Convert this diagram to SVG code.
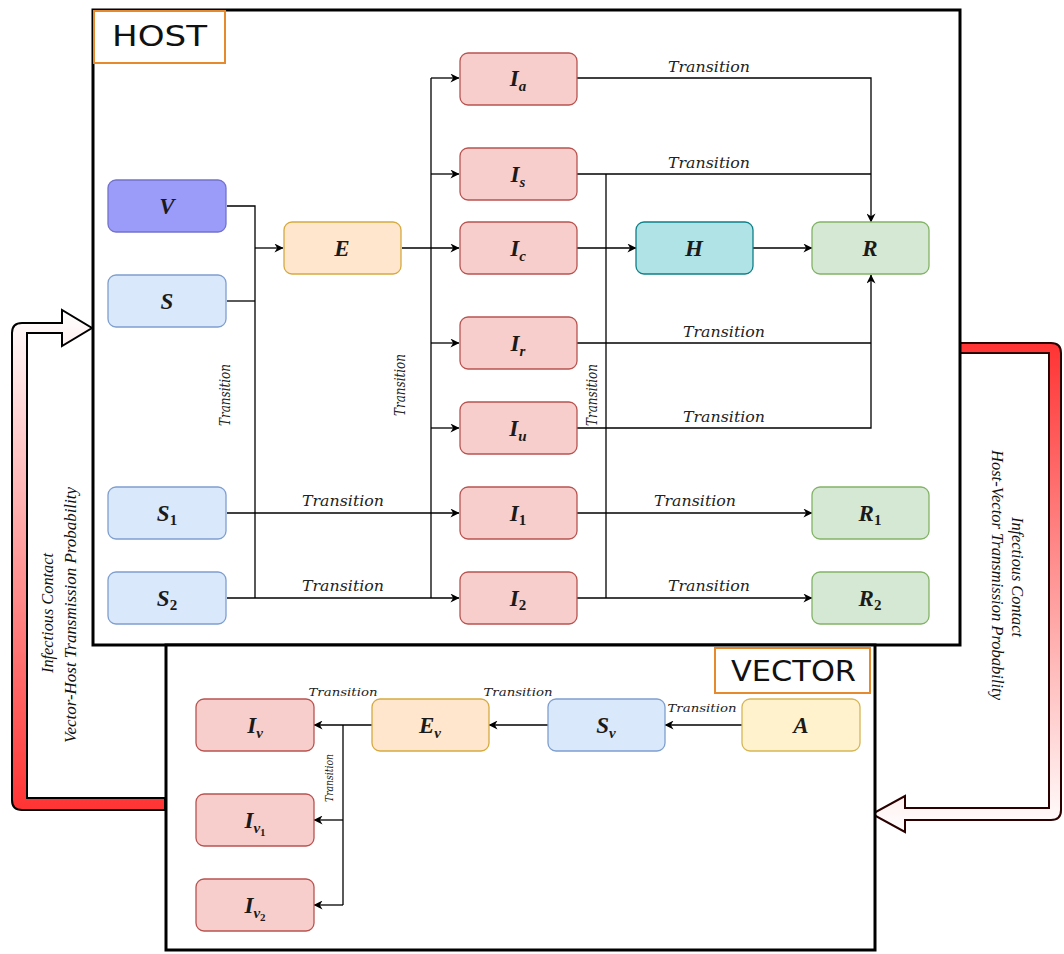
<svg xmlns="http://www.w3.org/2000/svg" width="1064" height="954" viewBox="0 0 1064 954">
<defs>
  <marker id="arr" viewBox="0 0 10 10" refX="9.5" refY="5" markerWidth="10" markerHeight="9" markerUnits="userSpaceOnUse" orient="auto">
    <path d="M0,0 L10,5 L0,10 L3,5 Z" fill="#000"/>
  </marker>
  <linearGradient id="gLeft" x1="0" y1="310" x2="0" y2="810" gradientUnits="userSpaceOnUse">
    <stop offset="0" stop-color="#ffffff"/>
    <stop offset="1" stop-color="#ff3333"/>
  </linearGradient>
  <linearGradient id="gRight" x1="0" y1="343" x2="0" y2="832" gradientUnits="userSpaceOnUse">
    <stop offset="0" stop-color="#ff3333"/>
    <stop offset="1" stop-color="#ffffff"/>
  </linearGradient>
  <style>
    .frame{fill:#fff;stroke:#000;stroke-width:3}
    .tag{fill:#fff;stroke:#e58a2e;stroke-width:2}
    .tagt{font-family:"DejaVu Sans",sans-serif;font-size:28px;fill:#111}
    .n{stroke-width:1.3}
    .purple{fill:#9b9bfa;stroke:#7373cc}
    .blue{fill:#dae8fc;stroke:#7f9fcf}
    .orange{fill:#ffe6cc;stroke:#d6aa40}
    .red{fill:#f8cecc;stroke:#b85450}
    .teal{fill:#b0e3e6;stroke:#0e8088}
    .green{fill:#d5e8d4;stroke:#82b366}
    .yellow{fill:#fff2cc;stroke:#d6b656}
    .lbl{font-family:"Liberation Serif",serif;font-style:italic;font-weight:bold;font-size:23px;fill:#1a1a1a;text-anchor:middle}
    .sub{font-size:15px}
    .sub2{font-size:11px}
    .c{fill:none;stroke:#000;stroke-width:1.3}
    .ca{fill:none;stroke:#000;stroke-width:1.3;marker-end:url(#arr)}
    .tr{font-family:"DejaVu Serif",serif;font-style:italic;font-size:14px;fill:#222;text-anchor:middle}
    .trs{font-family:"DejaVu Serif",serif;font-style:italic;font-size:11px;fill:#222;text-anchor:middle}
    .big{font-family:"Liberation Serif",serif;font-style:italic;font-size:16px;fill:#111;text-anchor:middle}
  </style>
</defs>

<!-- big feedback arrows -->
<g id="arrow-vector-host">
  <path d="M165,810 L22,810 Q12,810 12,800 L12,333 Q12,323 22,323 L62,323 L62,310 L92,328 L62,346 L62,333 L27,333 L27,798 L165,798 Z" fill="url(#gLeft)" stroke="#000" stroke-width="2"/>
  <text class="big" transform="translate(53,613) rotate(-90)" textLength="120" lengthAdjust="spacingAndGlyphs">Infectious Contact</text>
  <text class="big" transform="translate(76,615) rotate(-90)" textLength="256" lengthAdjust="spacingAndGlyphs">Vector-Host Transmission Probability</text>
</g>
<g id="arrow-host-vector">
  <path d="M960,343 L1051,343 Q1061,343 1061,353 L1061,810 Q1061,820 1051,820 L905,820 L905,832 L872,814 L905,796 L905,808 L1049,808 L1049,353 L960,353 Z" fill="url(#gRight)" stroke="#2a0000" stroke-width="2"/>
  <text class="big" transform="translate(1012,577) rotate(90)" textLength="120" lengthAdjust="spacingAndGlyphs">Infectious Contact</text>
  <text class="big" transform="translate(992,575) rotate(90)" textLength="250" lengthAdjust="spacingAndGlyphs">Host-Vector Transmission Probability</text>
</g>

<!-- frames -->
<g id="host-frame">
  <rect class="frame" x="93" y="10" width="867" height="635"/>
  <rect class="tag" x="94" y="11" width="131" height="52"/>
  <text class="tagt" x="112" y="46" textLength="95" lengthAdjust="spacingAndGlyphs">HOST</text>
</g>
<g id="vector-frame">
  <rect class="frame" x="166" y="645" width="709" height="305"/>
  <rect class="tag" x="715" y="648" width="155" height="45"/>
  <text class="tagt" x="731" y="681" font-size="26" textLength="125" lengthAdjust="spacingAndGlyphs">VECTOR</text>
</g>

<!-- connectors -->
<g id="connectors">
  <path class="c" d="M227,206 H255 V598"/>
  <path class="c" d="M227,301 H255"/>
  <path class="ca" d="M255,248 H283"/>
  <path class="ca" d="M227,513 H459"/>
  <path class="ca" d="M227,598 H459"/>
  <path class="ca" d="M402,248 H459"/>
  <path class="c" d="M431,78 V598"/>
  <path class="ca" d="M431,78 H459"/>
  <path class="ca" d="M431,174 H459"/>
  <path class="ca" d="M431,343 H459"/>
  <path class="ca" d="M431,428 H459"/>
  <path class="ca" d="M577,78 H871 V222"/>
  <path class="c" d="M577,174 H871"/>
  <path class="c" d="M606,174 V598"/>
  <path class="ca" d="M577,248 H636"/>
  <path class="ca" d="M753,248 H812"/>
  <path class="c" d="M577,343 H871"/>
  <path class="ca" d="M577,428 H871 V275"/>
  <path class="ca" d="M577,513 H812"/>
  <path class="ca" d="M577,598 H812"/>
  <!-- vector -->
  <path class="ca" d="M742,725 H665"/>
  <path class="ca" d="M548,725 H489"/>
  <path class="ca" d="M372,725 H314"/>
  <path class="c" d="M343,725 V905"/>
  <path class="ca" d="M343,820 H314"/>
  <path class="ca" d="M343,905 H314"/>
  <!-- labels -->
  <text class="tr" x="709" y="72" textLength="82" lengthAdjust="spacingAndGlyphs">Transition</text>
  <text class="tr" x="709" y="168" textLength="82" lengthAdjust="spacingAndGlyphs">Transition</text>
  <text class="tr" x="724" y="337" textLength="82" lengthAdjust="spacingAndGlyphs">Transition</text>
  <text class="tr" x="724" y="422" textLength="82" lengthAdjust="spacingAndGlyphs">Transition</text>
  <text class="tr" x="695" y="506" textLength="82" lengthAdjust="spacingAndGlyphs">Transition</text>
  <text class="tr" x="709" y="591" textLength="82" lengthAdjust="spacingAndGlyphs">Transition</text>
  <text class="tr" x="343" y="506" textLength="82" lengthAdjust="spacingAndGlyphs">Transition</text>
  <text class="tr" x="343" y="591" textLength="82" lengthAdjust="spacingAndGlyphs">Transition</text>
  <text class="tr" transform="translate(230,395) rotate(-90)" textLength="62" lengthAdjust="spacingAndGlyphs">Transition</text>
  <text class="tr" transform="translate(405,385) rotate(-90)" textLength="62" lengthAdjust="spacingAndGlyphs">Transition</text>
  <text class="tr" transform="translate(597,395) rotate(-90)" textLength="62" lengthAdjust="spacingAndGlyphs">Transition</text>
  <text class="trs" x="343" y="696" textLength="69" lengthAdjust="spacingAndGlyphs">Transition</text>
  <text class="trs" x="518" y="696" textLength="69" lengthAdjust="spacingAndGlyphs">Transition</text>
  <text class="trs" x="702" y="712" textLength="69" lengthAdjust="spacingAndGlyphs">Transition</text>
  <text class="trs" transform="translate(333,778) rotate(-90)" textLength="48" lengthAdjust="spacingAndGlyphs">Transition</text>
</g>

<!-- host nodes -->
<g id="node-V"><rect class="n purple" x="108" y="180" width="118" height="52" rx="8"/><text class="lbl" x="167" y="214">V</text></g>
<g id="node-S"><rect class="n blue" x="108" y="275" width="118" height="52" rx="8"/><text class="lbl" x="167" y="309">S</text></g>
<g id="node-S1"><rect class="n blue" x="108" y="487" width="118" height="52" rx="8"/><text class="lbl" x="167" y="521">S<tspan class="sub" font-style="normal" dy="4">1</tspan></text></g>
<g id="node-S2"><rect class="n blue" x="108" y="572" width="118" height="52" rx="8"/><text class="lbl" x="167" y="606">S<tspan class="sub" font-style="normal" dy="4">2</tspan></text></g>
<g id="node-E"><rect class="n orange" x="284" y="222" width="117" height="52" rx="8"/><text class="lbl" x="342" y="256">E</text></g>
<g id="node-Ia"><rect class="n red" x="460" y="53" width="117" height="52" rx="8"/><text class="lbl" x="518" y="86">I<tspan class="sub" dy="5">a</tspan></text></g>
<g id="node-Is"><rect class="n red" x="460" y="148" width="117" height="52" rx="8"/><text class="lbl" x="518" y="182">I<tspan class="sub" dy="5">s</tspan></text></g>
<g id="node-Ic"><rect class="n red" x="460" y="222" width="117" height="52" rx="8"/><text class="lbl" x="518" y="256">I<tspan class="sub" dy="5">c</tspan></text></g>
<g id="node-Ir"><rect class="n red" x="460" y="317" width="117" height="52" rx="8"/><text class="lbl" x="518" y="351">I<tspan class="sub" dy="5">r</tspan></text></g>
<g id="node-Iu"><rect class="n red" x="460" y="402" width="117" height="52" rx="8"/><text class="lbl" x="518" y="436">I<tspan class="sub" dy="5">u</tspan></text></g>
<g id="node-I1"><rect class="n red" x="460" y="487" width="117" height="52" rx="8"/><text class="lbl" x="518" y="521">I<tspan class="sub" font-style="normal" dy="4">1</tspan></text></g>
<g id="node-I2"><rect class="n red" x="460" y="572" width="117" height="52" rx="8"/><text class="lbl" x="518" y="606">I<tspan class="sub" font-style="normal" dy="4">2</tspan></text></g>
<g id="node-H"><rect class="n teal" x="636" y="222" width="117" height="52" rx="8"/><text class="lbl" x="694" y="256">H</text></g>
<g id="node-R"><rect class="n green" x="812" y="222" width="117" height="52" rx="8"/><text class="lbl" x="870" y="256">R</text></g>
<g id="node-R1"><rect class="n green" x="812" y="487" width="117" height="52" rx="8"/><text class="lbl" x="870" y="521">R<tspan class="sub" font-style="normal" dy="4">1</tspan></text></g>
<g id="node-R2"><rect class="n green" x="812" y="572" width="117" height="52" rx="8"/><text class="lbl" x="870" y="606">R<tspan class="sub" font-style="normal" dy="4">2</tspan></text></g>

<!-- vector nodes -->
<g id="node-Iv"><rect class="n red" x="196" y="699" width="118" height="52" rx="8"/><text class="lbl" x="255" y="733">I<tspan class="sub" dy="5">v</tspan></text></g>
<g id="node-Iv1"><rect class="n red" x="196" y="794" width="118" height="52" rx="8"/><text class="lbl" x="255" y="828">I<tspan class="sub" dy="5">v</tspan><tspan class="sub2" font-style="normal" dy="3">1</tspan></text></g>
<g id="node-Iv2"><rect class="n red" x="196" y="879" width="118" height="52" rx="8"/><text class="lbl" x="255" y="913">I<tspan class="sub" dy="5">v</tspan><tspan class="sub2" font-style="normal" dy="3">2</tspan></text></g>
<g id="node-Ev"><rect class="n orange" x="372" y="699" width="117" height="52" rx="8"/><text class="lbl" x="430" y="733">E<tspan class="sub" dy="5">v</tspan></text></g>
<g id="node-Sv"><rect class="n blue" x="548" y="699" width="117" height="52" rx="8"/><text class="lbl" x="606" y="733">S<tspan class="sub" dy="5">v</tspan></text></g>
<g id="node-A"><rect class="n yellow" x="742" y="699" width="118" height="52" rx="8"/><text class="lbl" x="801" y="733">A</text></g>
</svg>
